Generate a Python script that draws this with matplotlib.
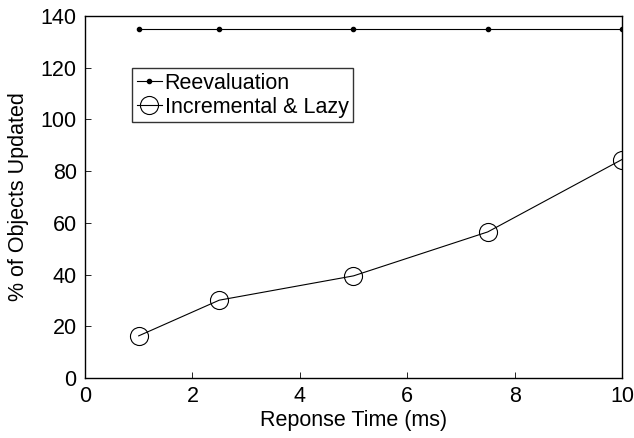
import matplotlib.pyplot as plt

# tiempos de respuesta (ms) y porcentaje de objetos actualizados
tiempos = [1, 2.5, 5, 7.5, 10]
reevaluacion = [135, 135, 135, 135, 135]
incremental = [16.3, 30.1, 39.5, 56.5, 84.5]

plt.rcParams['font.family'] = ['Liberation Sans', 'DejaVu Sans']
plt.rcParams['font.size'] = 15.5

fig = plt.figure(figsize=(6.34, 4.38), dpi=100)
ax = fig.add_axes([85 / 634, 1 - 378 / 438, 537 / 634, 362 / 438])

ax.plot(tiempos, reevaluacion, '-', color='black', lw=0.8, marker='.', ms=6,
        label='Reevaluation')
ax.plot(tiempos, incremental, '-', color='black', lw=0.8, marker='o', ms=13,
        mfc='none', mew=0.8, label='Incremental & Lazy')

ax.set_xlim(0, 10)
ax.set_ylim(0, 140)
ax.set_xticks([0, 2, 4, 6, 8, 10])
ax.set_yticks(range(0, 141, 20))
ax.tick_params(direction='in', length=4, width=0.6, top=False, right=False, pad=6)
for s in ax.spines.values():
    s.set_linewidth(1.0)

ax.set_xlabel('Reponse Time (ms)', labelpad=2)
ax.set_ylabel('% of Objects Updated', labelpad=8)

leg = ax.legend(loc='upper left', bbox_to_anchor=(0.088, 0.855), frameon=True,
                fancybox=False, edgecolor='black', handlelength=1.2,
                handletextpad=0.1, borderpad=0.2, labelspacing=0.15,
                borderaxespad=0)
leg.get_frame().set_linewidth(1.0)

fig.savefig('out.png', dpi=100)
